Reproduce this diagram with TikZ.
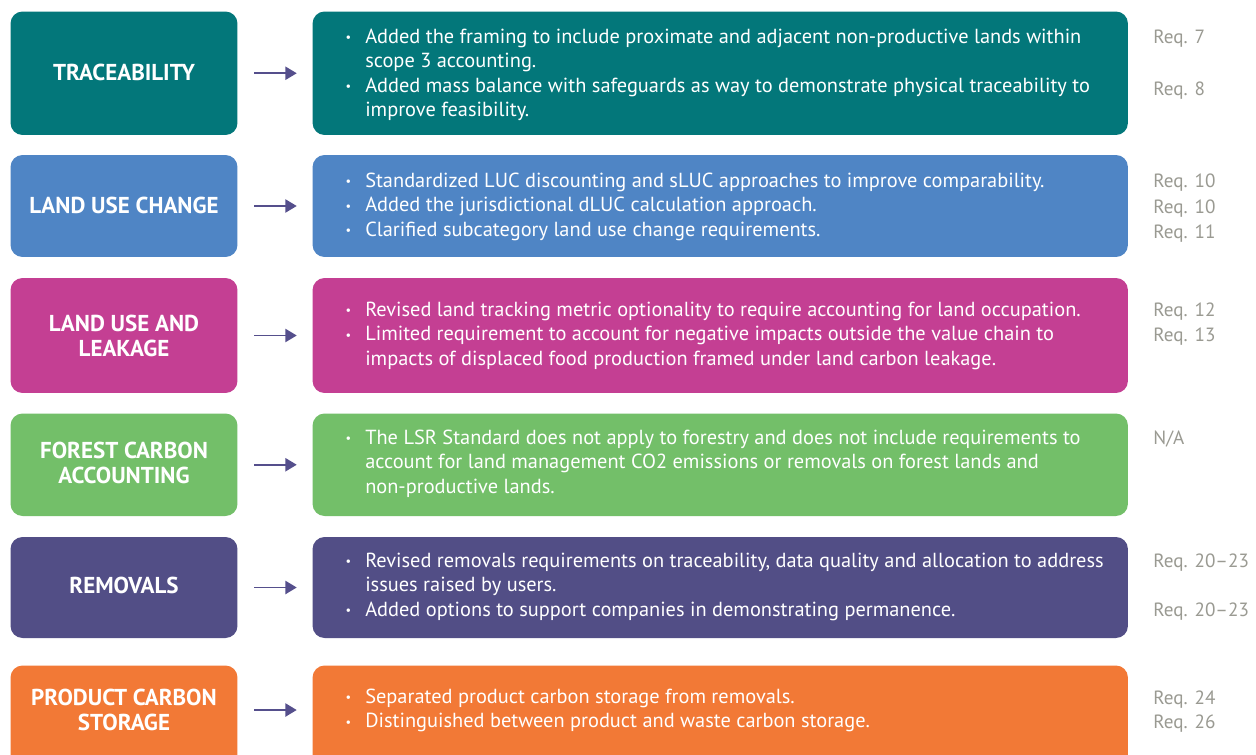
\documentclass[tikz,border=0pt]{standalone}
\usepackage{fontspec}
\setmainfont{PT Sans}
\usepackage{xcolor}
\usetikzlibrary{arrows.meta}

\definecolor{teal}{HTML}{03777A}
\definecolor{luc}{HTML}{4F85C5}
\definecolor{leak}{HTML}{C43F93}
\definecolor{forest}{HTML}{73BF69}
\definecolor{remov}{HTML}{524E86}
\definecolor{store}{HTML}{F27936}
\definecolor{arrowc}{HTML}{554F8C}
\definecolor{reqgray}{HTML}{9A9A92}

\newcommand{\bl}{\makebox[19.3pt]{\raisebox{0.15ex}{\scriptsize\textbullet}}}

\tikzset{
  catbox/.style={fill=#1, rounded corners=0.24cm, minimum width=4.54cm, inner sep=0pt},
  itembox/.style={fill=#1, rounded corners=0.24cm, minimum width=16.31cm, inner sep=0pt},
  cattitle/.style={text=white, align=center, inner sep=0pt,
    font=\bfseries\fontsize{13.1}{14.2}\selectfont},
  itemtext/.style={text=white, anchor=base west, inner sep=0pt,
    font=\fontsize{11.6}{13.9}\selectfont},
  reqtext/.style={text=reqgray, anchor=base west, inner sep=0pt,
    font=\fontsize{10.9}{13.9}\selectfont},
  flow/.style={draw=arrowc, line width=1.1pt, -{Triangle[length=6.5pt,width=7.5pt]},
    shorten <=0.33cm, shorten >=0.31cm}
}

\begin{document}
\begin{tikzpicture}[x=0.02cm, y=-0.02cm]
  \clip (0,0) rectangle (1256,754);
  \fill[white] (0,0) rectangle (1256,754);
%% category boxes
  \node (trace) [catbox=teal, minimum height=2.47cm] at (124,73.25) {};
  \node (luc) [catbox=luc, minimum height=2.04cm] at (124,206) {};
  \node (leak) [catbox=leak, minimum height=2.30cm] at (124,335.5) {};
  \node (forest) [catbox=forest, minimum height=2.05cm] at (124,464.75) {};
  \node (remov) [catbox=remov, minimum height=2.02cm] at (124,587.5) {};
  \node (store) [catbox=store, minimum height=2.01cm] at (124,715.75) {};
  \node (traceT) [cattitle] at (124,72.5) {TRACEABILITY};
  \node (lucT) [cattitle] at (124,205) {LAND USE CHANGE};
  \node (leakT) [cattitle] at (124,335.5) {LAND USE AND\\LEAKAGE};
  \node (forestT) [cattitle] at (124,462.5) {FOREST CARBON\\ACCOUNTING};
  \node (removT) [cattitle] at (124,585) {REMOVALS};
  \node (storeT) [cattitle] at (124,710) {PRODUCT CARBON\\STORAGE};
%% change boxes
  \node (traceR) [itembox=teal, minimum height=2.47cm] at (720.25,73.25) {};
  \node (lucR) [itembox=luc, minimum height=2.04cm] at (720.25,206) {};
  \node (leakR) [itembox=leak, minimum height=2.30cm] at (720.25,335.5) {};
  \node (forestR) [itembox=forest, minimum height=2.05cm] at (720.25,464.75) {};
  \node (removR) [itembox=remov, minimum height=2.02cm] at (720.25,587.5) {};
  \node (storeR) [itembox=store, minimum height=2.01cm] at (720.25,715.75) {};
%% bullet lists
  \node (traceL) [itemtext] at (331,43.5) {\begin{tabular}[t]{@{}l@{}l@{}}
    \bl & Added the framing to include proximate and adjacent non-productive lands within\\
        & scope 3 accounting.\\
    \bl & Added mass balance with safeguards as way to demonstrate physical traceability to\\
        & improve feasibility.
  \end{tabular}};
  \node (lucL) [itemtext] at (331,187.5) {\begin{tabular}[t]{@{}l@{}l@{}}
    \bl & Standardized LUC discounting and sLUC approaches to improve comparability.\\
    \bl & Added the jurisdictional dLUC calculation approach.\\
    \bl & Clarified subcategory land use change requirements.
  \end{tabular}};
  \node (leakL) [itemtext] at (331,316.5) {\begin{tabular}[t]{@{}l@{}l@{}}
    \bl & Revised land tracking metric optionality to require accounting for land occupation.\\
    \bl & Limited requirement to account for negative impacts outside the value chain to\\
        & impacts of displaced food production framed under land carbon leakage.
  \end{tabular}};
  \node (forestL) [itemtext] at (331,444.5) {\begin{tabular}[t]{@{}l@{}l@{}}
    \bl & The LSR Standard does not apply to forestry and does not include requirements to\\
        & account for land management CO2 emissions or removals on forest lands and\\
        & non-productive lands.
  \end{tabular}};
  \node (removL) [itemtext] at (331,567.5) {\begin{tabular}[t]{@{}l@{}l@{}}
    \bl & Revised removals requirements on traceability, data quality and allocation to address\\
        & issues raised by users.\\
    \bl & Added options to support companies in demonstrating permanence.
  \end{tabular}};
  \node (storeL) [itemtext] at (331,703.5) {\begin{tabular}[t]{@{}l@{}l@{}}
    \bl & Separated product carbon storage from removals.\\
    \bl & Distinguished between product and waste carbon storage.
  \end{tabular}};
%% requirement references
  \node (req7) [reqtext] at (1153,43.5) {Req. 7};
  \node (req8) [reqtext] at (1153,95) {Req. 8};
  \node (req10a) [reqtext] at (1153,187) {Req. 10};
  \node (req10b) [reqtext] at (1153,213) {Req. 10};
  \node (req11) [reqtext] at (1153,238.5) {Req. 11};
  \node (req12) [reqtext] at (1153,316.5) {Req. 12};
  \node (req13) [reqtext] at (1153,341) {Req. 13};
  \node (reqNA) [reqtext] at (1153,444.5) {N/A};
  \node (req20a) [reqtext] at (1153,567.5) {Req. 20--23};
  \node (req20b) [reqtext] at (1153,616.5) {Req. 20--23};
  \node (req24) [reqtext] at (1153,704.5) {Req. 24};
  \node (req26) [reqtext] at (1153,728) {Req. 26};
%% arrows
  \draw [flow] (trace) -- (traceR);
  \draw [flow] (luc) -- (lucR);
  \draw [flow] (leak) -- (leakR);
  \draw [flow] (forest) -- (forestR);
  \draw [flow] (remov) -- (removR);
  \draw [flow] ([yshift=0.115cm]store.east) -- ([yshift=0.115cm]storeR.west);
\end{tikzpicture}
\end{document}
